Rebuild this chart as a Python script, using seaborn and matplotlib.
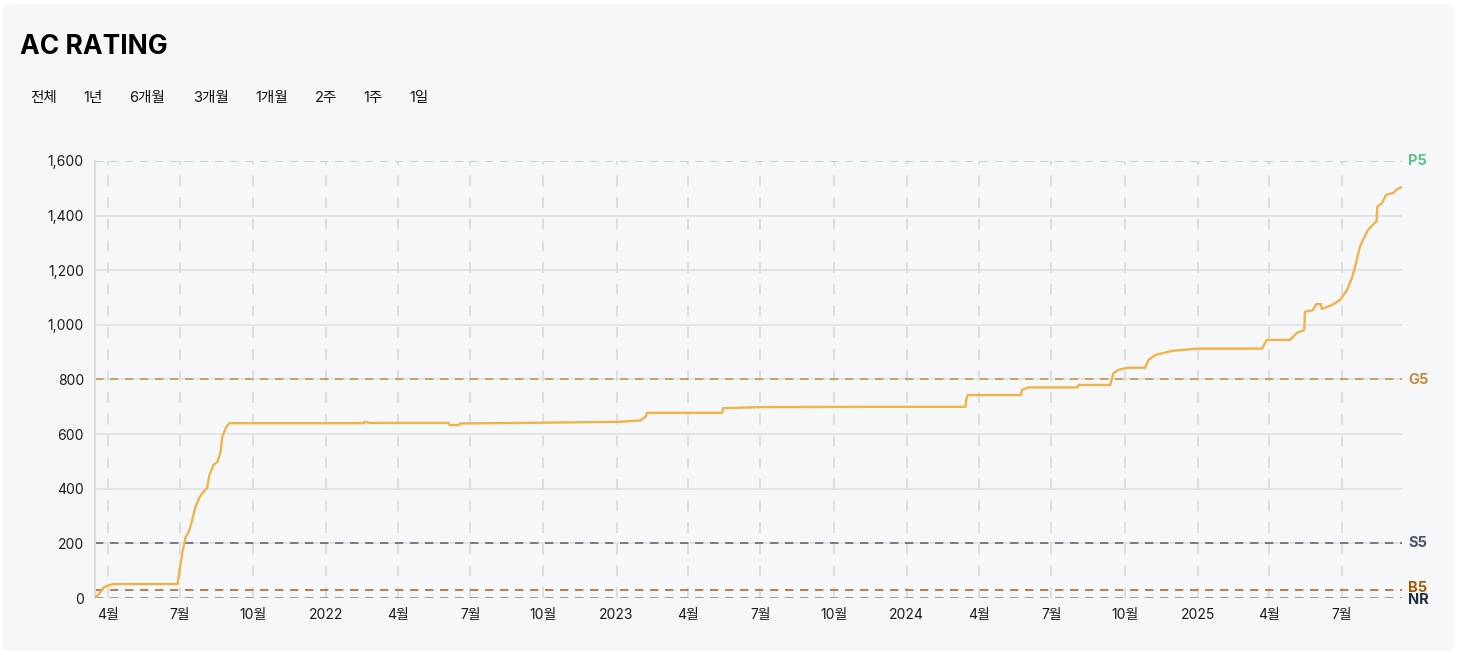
import numpy as np
import pandas as pd
import matplotlib
matplotlib.use("Agg")
import matplotlib.pyplot as plt
import matplotlib.transforms as mtransforms
from matplotlib.patches import FancyBboxPatch
import seaborn as sns

# rating history
dates = [
    "2021-03-16", "2021-03-22", "2021-03-26", "2021-03-31", "2021-04-07",
    "2021-06-28", "2021-06-30", "2021-07-04", "2021-07-08", "2021-07-12",
    "2021-07-17", "2021-07-20", "2021-07-25", "2021-07-29", "2021-08-04",
    "2021-08-07", "2021-08-12", "2021-08-17", "2021-08-21", "2021-08-23",
    "2021-08-28", "2021-09-01", "2022-02-17", "2022-02-18", "2022-02-25",
    "2022-06-04", "2022-06-05", "2022-06-17", "2022-06-18", "2022-09-01",
    "2023-01-03", "2023-01-31", "2023-02-07", "2023-02-08", "2023-05-14",
    "2023-05-15", "2023-07-03", "2023-11-15", "2024-03-15", "2024-03-16",
    "2024-03-18", "2024-05-24", "2024-05-25", "2024-06-02", "2024-08-03",
    "2024-08-04", "2024-09-13", "2024-09-17", "2024-09-23", "2024-10-04",
    "2024-10-27", "2024-10-31", "2024-11-09", "2024-11-30", "2025-01-01",
    "2025-03-23", "2025-03-29", "2025-04-27", "2025-05-06", "2025-05-15",
    "2025-05-16", "2025-05-26", "2025-05-30", "2025-06-05", "2025-06-06",
    "2025-06-19", "2025-06-29", "2025-07-08", "2025-07-14", "2025-07-18",
    "2025-07-24", "2025-07-28", "2025-08-03", "2025-08-09", "2025-08-14",
    "2025-08-15", "2025-08-21", "2025-08-26", "2025-09-04", "2025-09-09",
    "2025-09-15",
]
ratings = [
    0, 18, 37, 44, 51,
    51, 95, 168, 223, 242,
    293, 330, 366, 384, 403,
    450, 487, 498, 535, 590,
    626, 640, 640, 645, 641,
    641, 633, 633, 639, 641,
    645, 650, 665, 678, 678,
    695, 699, 700, 700, 728,
    743, 743, 762, 771, 771,
    780, 780, 823, 835, 843,
    843, 871, 890, 905, 913,
    913, 945, 945, 971, 981,
    1048, 1054, 1076, 1076, 1058,
    1073, 1091, 1128, 1172, 1213,
    1286, 1311, 1347, 1366, 1378,
    1433, 1446, 1476, 1483, 1497,
    1505,
]

# tier thresholds
tier_names = ["P5", "G5", "S5", "B5", "NR"]
tier_values = [1600, 800, 200, 30, 0]
tier_line_colors = ["#a8d8b8", "#c8914a", "#5d6878", "#b5642c", "#8a8a8a"]
tier_text_colors = ["#5cc08a", "#c08a3e", "#44546a", "#ad5600", "#1f2d3d"]

tick_dates = [
    "2021-04-01", "2021-07-01", "2021-10-01", "2022-01-01", "2022-04-01",
    "2022-07-01", "2022-10-01", "2023-01-01", "2023-04-01", "2023-07-01",
    "2023-10-01", "2024-01-01", "2024-04-01", "2024-07-01", "2024-10-01",
    "2025-01-01", "2025-04-01", "2025-07-01",
]
tick_labels = [
    "4월", "7월", "10월", "2022", "4월", "7월", "10월", "2023", "4월", "7월",
    "10월", "2024", "4월", "7월", "10월", "2025", "4월", "7월",
]
range_buttons = ["전체", "1년", "6개월", "3개월", "1개월", "2주", "1주", "1일"]
button_x = [30, 83, 129, 193, 255, 315, 363, 409]

sns.set_style("white")
plt.rcParams["font.family"] = ["Inter", "Noto Sans CJK KR", "DejaVu Sans"]

df = pd.DataFrame({"date": pd.to_datetime(dates), "rating": ratings})

W, H = 1457, 655
fig = plt.figure(figsize=(W / 100, H / 100), dpi=100, facecolor="white")
card = FancyBboxPatch((2 / W, 4 / H), (W - 4) / W, (H - 8) / H,
                      boxstyle="round,pad=0,rounding_size=0.008",
                      transform=fig.transFigure, facecolor="#f6f7f9",
                      edgecolor="none", zorder=-10)
fig.patches.append(card)

ax = fig.add_axes([95 / W, 1 - 598 / H, (1402 - 95) / W, (598 - 161) / H])
ax.set_facecolor("none")

# horizontal grid
for v in range(200, 1600, 200):
    ax.axhline(v, color="#dedfe1", lw=1.1, zorder=1)

# vertical dashed grid
tick_dt = pd.to_datetime(tick_dates)
for d in tick_dt:
    ax.axvline(d, color="#dcdcdc", lw=1.3, ls=(0, (6, 6)), zorder=1)

# tier lines + labels (B5 and NR sit very close, nudge them apart a bit)
nudge = {"B5": 2, "NR": -2}
for name, val, lc, tc in zip(tier_names, tier_values, tier_line_colors, tier_text_colors):
    ax.axhline(val, color=lc, lw=1.2, ls=(0, (5, 4)), zorder=2)
    tr = ax.get_yaxis_transform() + mtransforms.ScaledTranslation(
        0, nudge.get(name, 0) / 100, fig.dpi_scale_trans)
    ax.text(1.0045, val, name, transform=tr, color=tc, fontsize=10.5,
            fontweight="bold", va="center", ha="left")

sns.lineplot(data=df, x="date", y="rating", ax=ax, color="#f0b24a",
             lw=1.7, estimator=None, sort=False, zorder=5)

ax.set_xlim(pd.Timestamp("2021-03-16"), pd.Timestamp("2025-09-15"))
ax.set_ylim(0, 1600)
ax.set_yticks(range(0, 1601, 200))
ax.set_yticklabels([f"{v:,}" for v in range(0, 1601, 200)])
ax.set_xticks(tick_dt)
ax.set_xticklabels(tick_labels)
ax.tick_params(axis="both", length=6, width=1.2, color="#333333",
               labelsize=10, labelcolor="#1a1a1a", pad=2)
ax.tick_params(axis="x", pad=1)
ax.set_xlabel("")
ax.set_ylabel("")

for s in ["top", "right", "bottom"]:
    ax.spines[s].set_visible(False)
ax.spines["left"].set_color("#dddddd")
ax.spines["left"].set_linewidth(1.5)

fig.text(20 / W, 1 - 47 / H, "AC RATING", fontsize=19, fontweight="bold",
         color="#000000", va="center", ha="left")
for label, bx in zip(range_buttons, button_x):
    fig.text(bx / W, 1 - 98 / H, label, fontsize=10.5, color="#111111",
             va="center", ha="left")

fig.savefig("out.png", dpi=100, facecolor="white")
